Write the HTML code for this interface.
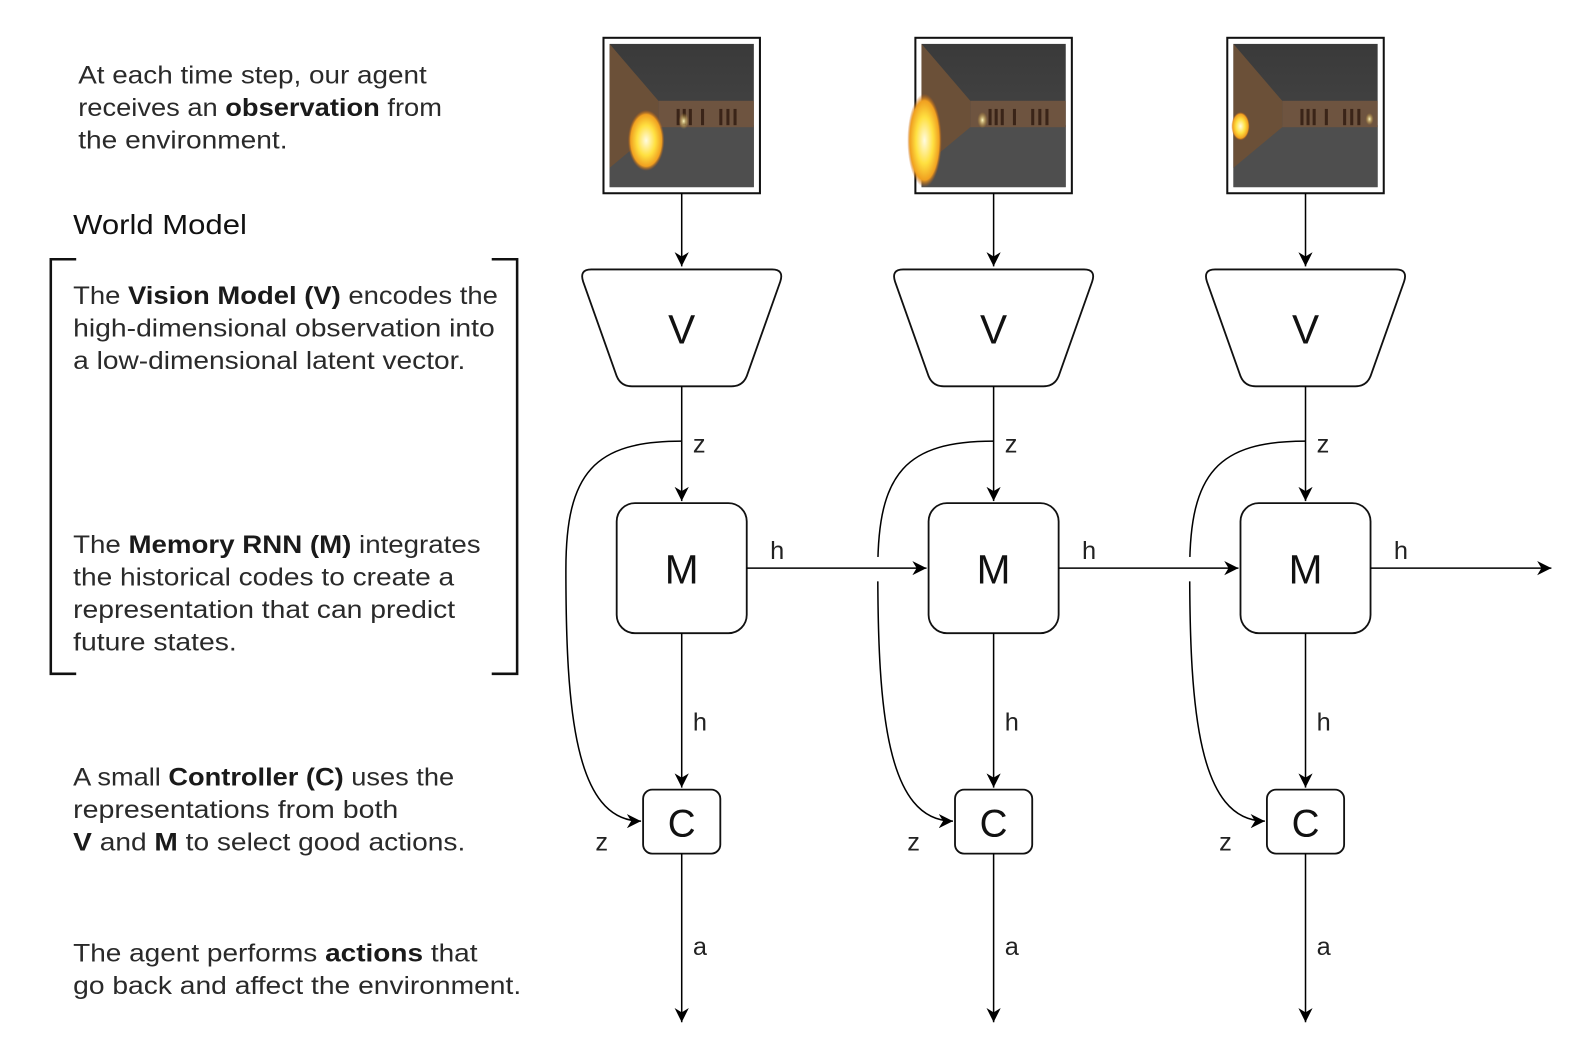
<!DOCTYPE html>
<html><head><meta charset="utf-8"><style>
html,body{margin:0;padding:0;background:#fff;width:1591px;height:1055px;overflow:hidden}
svg{display:block}
.t{font-family:"Liberation Sans",sans-serif;font-size:25px;fill:#2a2a2a}
.b{font-weight:bold;fill:#1a1a1a}
.lbl{font-family:"Liberation Sans",sans-serif;font-size:25px;fill:#222}
.big{font-family:"Liberation Sans",sans-serif;font-size:40px;fill:#111;text-anchor:middle}
</style></head><body>
<svg width="1591" height="1055" viewBox="0 0 1566 1038" xmlns="http://www.w3.org/2000/svg">
<defs>
<marker id="ar" viewBox="0 0 10 10" refX="10" refY="5" markerWidth="14" markerHeight="14" markerUnits="userSpaceOnUse" orient="auto">
<path d="M0,0 L10,5 L0,10 L3,5 Z" fill="#000"/></marker>
<radialGradient id="glow"><stop offset="0" stop-color="#fffbe0"/><stop offset="0.5" stop-color="#ffe040"/><stop offset="0.85" stop-color="#f0a020"/><stop offset="1" stop-color="#c06010" stop-opacity="0"/></radialGradient>
<radialGradient id="sg"><stop offset="0" stop-color="#fff8c0"/><stop offset="1" stop-color="#d0a030" stop-opacity="0"/></radialGradient>
<linearGradient id="ceil" x1="0" y1="0" x2="0" y2="1"><stop offset="0" stop-color="#3a3a3a"/><stop offset="1" stop-color="#4a4a4a"/></linearGradient>
<g id="scene">
<rect x="0" y="0" width="142" height="141" fill="url(#ceil)"/>
<rect x="0" y="80" width="142" height="61" fill="#4e4e4e"/>
<rect x="48" y="56" width="94" height="26" fill="#6e5440"/>
<polygon points="0,0 48,56 48,82 0,122" fill="#6b5038"/>
<g fill="#3a2418"><rect x="66" y="64" width="3" height="16"/><rect x="72" y="64" width="3" height="16"/><rect x="78" y="64" width="3" height="16"/><rect x="90" y="64" width="3" height="16"/><rect x="108" y="64" width="3" height="16"/><rect x="115" y="64" width="3" height="16"/><rect x="122" y="64" width="3" height="16"/></g>
</g>
<g id="col">
<rect x="594" y="37" width="154" height="153" fill="#fff" stroke="#111" stroke-width="2"/>
<use href="#scene" x="600" y="43"/>
<line x1="671" y1="190" x2="671" y2="262" stroke="#000" stroke-width="1.5" marker-end="url(#ar)"/>
<path d="M582,265 H760 Q772,265 768,277 L735,370 Q731,380 720,380 H622 Q611,380 607,370 L574,277 Q570,265 582,265 Z" fill="#fff" stroke="#111" stroke-width="1.8"/>
<text class="big" x="671" y="338">V</text>
<line x1="671" y1="380" x2="671" y2="493" stroke="#000" stroke-width="1.5" marker-end="url(#ar)"/>
<text class="lbl" x="682" y="445">z</text>
<path d="M671,434 C585,434 557,465 557,560 C557,700 566,808 631,808" fill="none" stroke="#000" stroke-width="1.5" marker-end="url(#ar)"/>
<rect x="607" y="495" width="128" height="128" rx="18" fill="#fff" stroke="#111" stroke-width="1.8"/>
<text class="big" x="671" y="574">M</text>
<line x1="671" y1="623" x2="671" y2="775" stroke="#000" stroke-width="1.5" marker-end="url(#ar)"/>
<text class="lbl" x="682" y="719">h</text>
<rect x="633" y="777" width="76" height="63" rx="9" fill="#fff" stroke="#111" stroke-width="1.8"/>
<text class="big" x="671" y="823" style="font-size:38px">C</text>
<text class="lbl" x="586" y="837">z</text>
<line x1="671" y1="840" x2="671" y2="1006" stroke="#000" stroke-width="1.5" marker-end="url(#ar)"/>
<text class="lbl" x="682" y="940">a</text>
<text class="lbl" x="758" y="550">h</text>
</g>
</defs>

<text class="t" x="77" y="82" textLength="343" lengthAdjust="spacingAndGlyphs">At each time step, our agent</text>
<text class="t" x="77" y="114" textLength="358" lengthAdjust="spacingAndGlyphs">receives an <tspan class="b">observation</tspan> from</text>
<text class="t" x="77" y="146" textLength="206" lengthAdjust="spacingAndGlyphs">the environment.</text>
<text class="t" x="72" y="230" style="font-size:27px;fill:#111" textLength="171" lengthAdjust="spacingAndGlyphs">World Model</text>

<path d="M75,255 H50 V663 H75 M484,255 H509 V663 H484" fill="none" stroke="#111" stroke-width="2.5"/>

<text class="t" x="72" y="299" textLength="418" lengthAdjust="spacingAndGlyphs">The <tspan class="b">Vision Model (V)</tspan> encodes the</text>
<text class="t" x="72" y="331" textLength="415" lengthAdjust="spacingAndGlyphs">high-dimensional observation into</text>
<text class="t" x="72" y="363" textLength="386" lengthAdjust="spacingAndGlyphs">a low-dimensional latent vector.</text>

<text class="t" x="72" y="544" textLength="401" lengthAdjust="spacingAndGlyphs">The <tspan class="b">Memory RNN (M)</tspan> integrates</text>
<text class="t" x="72" y="576" textLength="375" lengthAdjust="spacingAndGlyphs">the historical codes to create a</text>
<text class="t" x="72" y="608" textLength="376" lengthAdjust="spacingAndGlyphs">representation that can predict</text>
<text class="t" x="72" y="640" textLength="161" lengthAdjust="spacingAndGlyphs">future states.</text>

<text class="t" x="72" y="773" textLength="375" lengthAdjust="spacingAndGlyphs">A small <tspan class="b">Controller (C)</tspan> uses the</text>
<text class="t" x="72" y="805" textLength="320" lengthAdjust="spacingAndGlyphs">representations from both</text>
<text class="t" x="72" y="837" textLength="386" lengthAdjust="spacingAndGlyphs"><tspan class="b">V</tspan> and <tspan class="b">M</tspan> to select good actions.</text>

<text class="t" x="72" y="946" textLength="398" lengthAdjust="spacingAndGlyphs">The agent performs <tspan class="b">actions</tspan> that</text>
<text class="t" x="72" y="978" textLength="441" lengthAdjust="spacingAndGlyphs">go back and affect the environment.</text>

<use href="#col"/>
<use href="#col" x="307"/>
<use href="#col" x="614"/>

<ellipse cx="636" cy="138" rx="18" ry="30" fill="url(#glow)"/>
<ellipse cx="673" cy="119" rx="5" ry="8" fill="url(#sg)"/>
<ellipse cx="910" cy="138" rx="17" ry="46" fill="url(#glow)"/>
<ellipse cx="967" cy="118" rx="5" ry="8" fill="url(#sg)"/>
<ellipse cx="1221" cy="124" rx="9" ry="14" fill="url(#glow)"/>
<ellipse cx="1348" cy="117" rx="4" ry="6" fill="url(#sg)"/>

<rect x="852" y="548" width="24" height="24" fill="#fff"/>
<rect x="1159" y="548" width="24" height="24" fill="#fff"/>
<line x1="735" y1="559" x2="912" y2="559" stroke="#000" stroke-width="1.5" marker-end="url(#ar)"/>
<line x1="1042" y1="559" x2="1219" y2="559" stroke="#000" stroke-width="1.5" marker-end="url(#ar)"/>
<line x1="1349" y1="559" x2="1527" y2="559" stroke="#000" stroke-width="1.5" marker-end="url(#ar)"/>
</svg>
</body></html>
